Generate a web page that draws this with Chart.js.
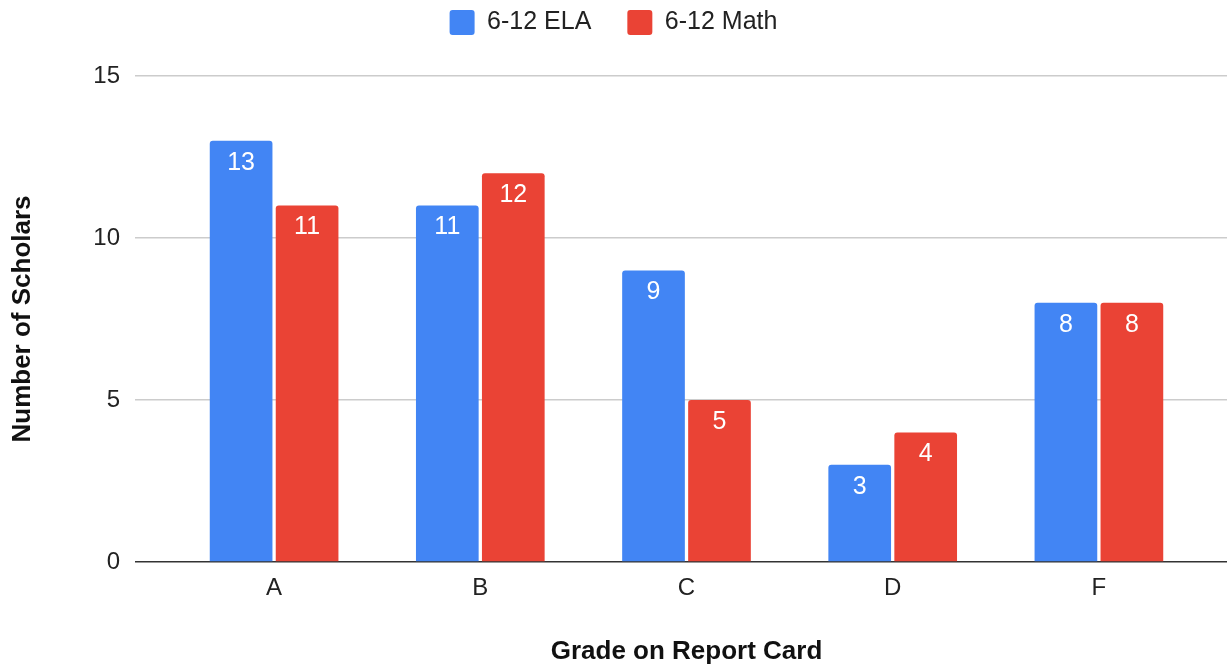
<!DOCTYPE html>
<html>
<head>
<meta charset="utf-8">
<script src="https://cdn.jsdelivr.net/npm/chart.js@4/dist/chart.umd.min.js"></script>
<style>
  html, body { margin: 0; padding: 0; background: #fff; }
  #wrap { width: 1227px; height: 667px; }
</style>
</head>
<body>
<div id="wrap"><canvas id="gradeChart" width="1227" height="667"></canvas></div>
<script>
// kategorier och serier
const grades = ["A", "B", "C", "D", "F"];
const elaCounts = [13, 11, 9, 3, 8];
const mathCounts = [11, 12, 5, 4, 8];
const yTicks = [0, 5, 10, 15];

const FONT = "'Liberation Sans', Arial, sans-serif";

// vita siffror inne i staplarna
const barLabels = {
  id: "barLabels",
  afterDatasetsDraw(chart) {
    const ctx = chart.ctx;
    ctx.save();
    ctx.fillStyle = "#fff";
    ctx.font = "25px " + FONT;
    ctx.textAlign = "center";
    ctx.textBaseline = "middle";
    chart.data.datasets.forEach((ds, i) => {
      chart.getDatasetMeta(i).data.forEach((bar, j) => {
        ctx.fillText(String(ds.data[j]), bar.x, bar.y + 22);
      });
    });
    ctx.restore();
  }
};

// fast höjd på legenden så att diagramytan börjar på rätt ställe
const legendHeight = {
  id: "legendHeight",
  beforeInit(chart) {
    const orig = chart.legend.fit;
    chart.legend.fit = function () {
      orig.call(this);
      this.height = 102;
    };
  }
};

const gridColor = (c) => (c.tick && c.tick.value === 0 ? "#333" : "#ccc");

new Chart(document.getElementById("gradeChart"), {
  type: "bar",
  data: {
    labels: grades,
    datasets: [
      { label: "6-12 ELA", data: elaCounts, backgroundColor: "#4285F4", borderRadius: { topLeft: 3, topRight: 3 }, borderSkipped: "bottom" },
      { label: "6-12 Math", data: mathCounts, backgroundColor: "#EA4335", borderRadius: { topLeft: 3, topRight: 3 }, borderSkipped: "bottom" }
    ]
  },
  options: {
    responsive: false,
    animation: false,
    datasets: { bar: { categoryPercentage: 0.64, barPercentage: 0.95 } },
    layout: { padding: { top: -26, left: 0, right: 0, bottom: 0 } },
    plugins: {
      tooltip: { enabled: false },
      legend: {
        position: "top",
        labels: {
          color: "#222",
          font: { family: FONT, size: 25 },
          boxWidth: 25,
          boxHeight: 25,
          padding: 36,
          useBorderRadius: true,
          borderRadius: 3
        }
      }
    },
    scales: {
      x: {
        grid: { display: false, drawTicks: false },
        border: { display: false },
        ticks: { color: "#222", font: { family: FONT, size: 24 }, padding: 12 },
        title: {
          display: true,
          text: "Grade on Report Card",
          color: "#111",
          font: { family: FONT, size: 26, weight: "bold" },
          padding: { top: 0, bottom: 0 }
        },
        afterFit: (s) => { s.height = 105; }
      },
      y: {
        min: 0,
        max: 15,
        afterBuildTicks: (s) => { s.ticks = yTicks.map(v => ({ value: v })); },
        grid: { color: gridColor, tickColor: gridColor, lineWidth: 1.5, tickLength: 36 },
        border: { display: false },
        ticks: { color: "#222", font: { family: FONT, size: 24 }, padding: 15 },
        title: {
          display: true,
          text: "Number of Scholars",
          color: "#111",
          font: { family: FONT, size: 26, weight: "bold" },
          padding: { top: 7, bottom: 0 }
        },
        afterFit: (s) => { s.width = 171; }
      },
      yRight: {
        position: "right",
        min: 0,
        max: 15,
        afterBuildTicks: (s) => { s.ticks = yTicks.map(v => ({ value: v })); },
        grid: { drawOnChartArea: false, color: gridColor, tickColor: gridColor, lineWidth: 1.5, tickLength: 25 },
        border: { display: false },
        ticks: { display: false },
        afterFit: (s) => { s.width = 25; }
      }
    }
  },
  plugins: [legendHeight, barLabels]
});
</script>
</body>
</html>
